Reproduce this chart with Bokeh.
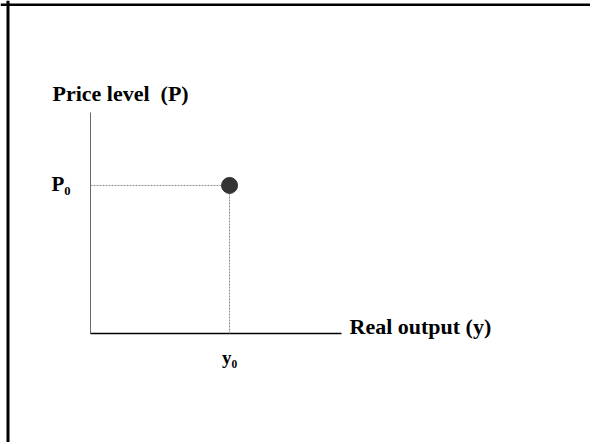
from bokeh.plotting import figure
from bokeh.models import Range1d, Span
from bokeh.core.properties import value
from bokeh.embed import file_html
from bokeh.resources import INLINE

# ---- data ----
y0 = [5.54]          # equilibrium real output
P0 = [6.7]           # equilibrium price level
axis_len_x = 10      # length of output axis
axis_len_y = 10      # length of price axis
x_label = ["Real output (y)"]
y_label = ["Price level\u00a0 (P)"]
x_tick_label = ["y\u2080"]
y_tick_label = ["P\u2080"]

FONT = "Liberation Serif"
W, H = 590, 442
PX_X = 25.1   # pixels per x unit
PX_Y = 22.1   # pixels per y unit
ORIG_X, ORIG_Y = 90, 333   # origin in canvas pixels

x_start, x_end = -ORIG_X / PX_X, (W - ORIG_X) / PX_X
y_start, y_end = -(H - ORIG_Y) / PX_Y, ORIG_Y / PX_Y

p = figure(width=W, height=H, output_backend="svg", toolbar_location=None,
           x_range=Range1d(x_start, x_end), y_range=Range1d(y_start, y_end),
           min_border=0, x_axis_type=None, y_axis_type=None)
p.background_fill_color = "white"
p.border_fill_color = "white"
p.outline_line_color = None
p.grid.visible = False

# slide frame: left and top edges
p.add_layout(Span(location=x_start + 7.5 / PX_X, dimension="height",
                  line_color="black", line_width=3))
p.add_layout(Span(location=y_end - 4.2 / PX_Y, dimension="width",
                  line_color="black", line_width=2.5))

# axes
p.segment(x0=[0], y0=[0], x1=[0], y1=[axis_len_y], line_color="#6a6a6a", line_width=1)
p.segment(x0=[0], y0=[0], x1=[axis_len_x], y1=[0], line_color="black", line_width=1.5)

# dotted guide lines
p.segment(x0=[0], y0=P0, x1=y0, y1=P0, line_color="#8a8a8a", line_dash="2 1", line_width=1)
p.segment(x0=y0, y0=[0], x1=y0, y1=P0, line_color="#8a8a8a", line_dash="2 1", line_width=1)

# equilibrium point
p.scatter(x=y0, y=P0, size=16, color="#333333")

# texts
kw = dict(text_font=value(FONT), text_font_style="bold", text_color="black",
          text_baseline="middle")
p.text(x=[0], y=[axis_len_y], text=y_label, x_offset=-38, y_offset=-19,
       text_font_size="22px", **kw)
p.text(x=[axis_len_x], y=[0], text=x_label, x_offset=8, y_offset=-7,
       text_font_size="22px", **kw)
p.text(x=[0], y=P0, text=y_tick_label, x_offset=-20, y_offset=-1,
       text_font_size="21px", text_align="right", **kw)
p.text(x=y0, y=[0], text=x_tick_label, x_offset=0, y_offset=24,
       text_font_size="19px", text_align="center", **kw)

open("out.html", "w").write(file_html(p, INLINE))
